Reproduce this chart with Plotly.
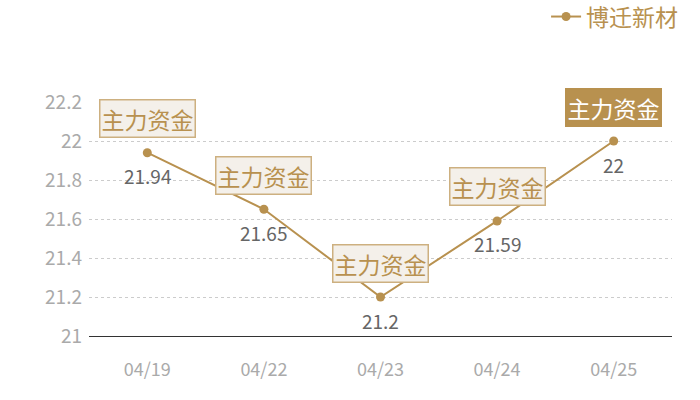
import plotly.graph_objects as go

categories = ["04/19", "04/22", "04/23", "04/24", "04/25"]
values = [21.94, 21.65, 21.2, 21.59, 22]
value_labels = ["21.94", "21.65", "21.2", "21.59", "22"]
tag_text = "主力资金"
series_name = "博迁新材"
y_ticks = [21, 21.2, 21.4, 21.6, 21.8, 22, 22.2]
y_tick_labels = ["21", "21.2", "21.4", "21.6", "21.8", "22", "22.2"]

GOLD = "#b8914f"
FONT = "Noto Sans CJK SC"

fig = go.Figure()
fig.add_trace(go.Scatter(
    x=categories, y=values, mode="lines+markers",
    name=series_name,
    line=dict(color=GOLD, width=2),
    marker=dict(color=GOLD, size=9),
    cliponaxis=False,
))

for i, (c, v, lab) in enumerate(zip(categories, values, value_labels)):
    last = i == len(categories) - 1
    fig.add_annotation(
        x=c, y=v, text=tag_text, showarrow=False, yshift=34,
        font=dict(size=23, color="#ffffff" if last else GOLD, family=FONT),
        bgcolor=GOLD if last else "#f4f0ea",
        bordercolor=GOLD if last else "#cdb080",
        borderwidth=1.5, borderpad=1,
    )
    fig.add_annotation(
        x=c, y=v, text=lab, showarrow=False, yshift=-23,
        font=dict(size=19, color="#666666", family=FONT),
    )

fig.update_layout(
    width=700, height=400,
    margin=dict(l=89, r=28, t=102, b=64, autoexpand=False),
    paper_bgcolor="white", plot_bgcolor="white",
    font=dict(family=FONT),
    showlegend=True,
    legend=dict(
        x=1.019, xanchor="right",
        y=1.365, yanchor="middle",
        font=dict(size=23, color=GOLD, family=FONT),
        bgcolor="rgba(0,0,0,0)", itemwidth=30,
    ),
    xaxis=dict(
        type="category", range=[-0.5, 4.5], showgrid=False,
        showline=True, linecolor="#333333", linewidth=1,
        ticks="", tickfont=dict(size=18, color="#aaaaaa", family=FONT),
        ticklabelstandoff=17, zeroline=False,
    ),
    yaxis=dict(
        range=[21, 22.2], tickvals=y_ticks, ticktext=y_tick_labels,
        showgrid=True, gridcolor="#cccccc", griddash="dot", gridwidth=1,
        tickfont=dict(size=19, color="#aaaaaa", family=FONT),
        ticks="", zeroline=False, showline=False,
        ticklabelstandoff=6,
    ),
)

fig.write_html(
    "out.html",
    config={"displayModeBar": False},
    post_script="document.body.style.margin='0';",
)
